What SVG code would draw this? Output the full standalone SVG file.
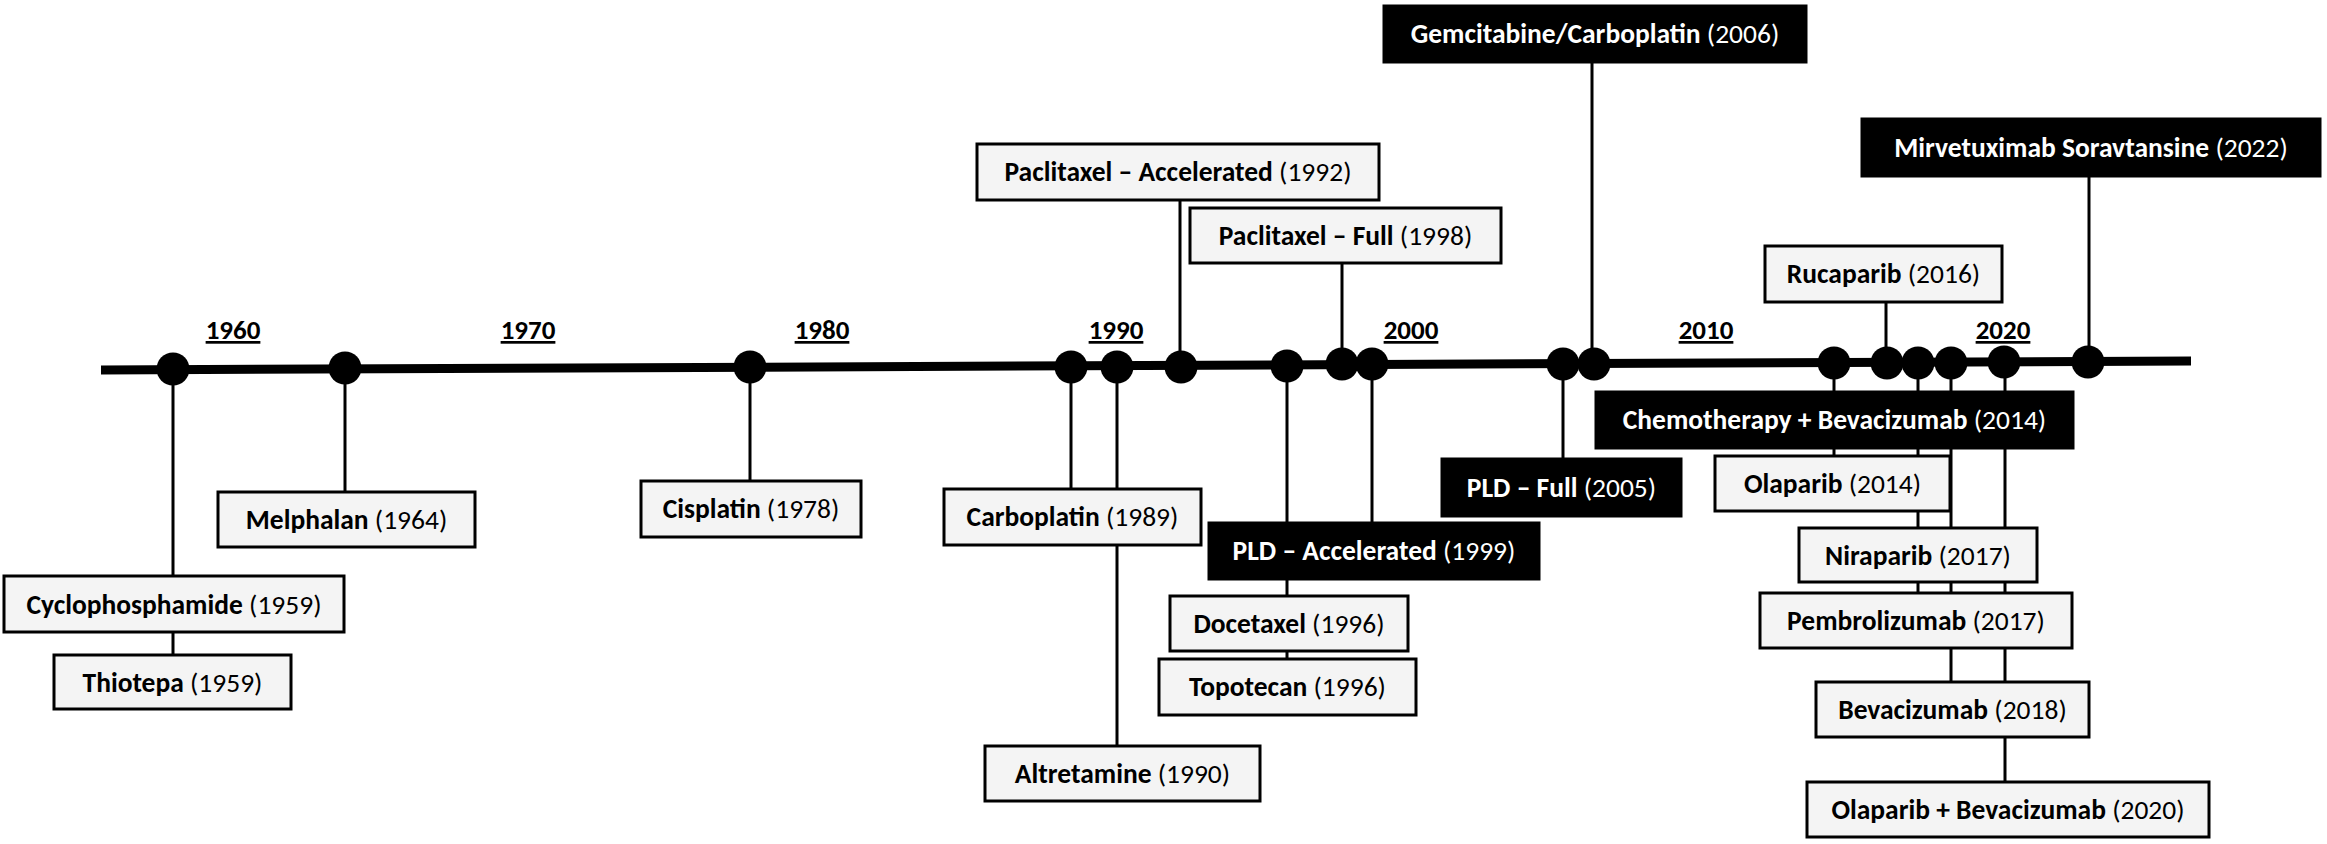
<svg xmlns="http://www.w3.org/2000/svg" width="2327" height="844" viewBox="0 0 2327 844">
<style>
  text { font-family: Carlito, Lato, "Liberation Sans", sans-serif; font-size: 27.5px; text-anchor: middle; }
  .b { font-weight: bold; }
  .lt rect { fill: #f4f4f4; stroke: #000; stroke-width: 3; }
  .lt text { fill: #000; }
  .dk rect { fill: #000; stroke: #000; stroke-width: 3; }
  .dk text { fill: #fff; }
  .conn line { stroke: #000; stroke-width: 3; }
  .dec { font-weight: bold; font-size: 27px; text-decoration: underline; fill: #000; }
  .dot { fill: #000; }
</style>
<rect width="2327" height="844" fill="#fff"/>

<g id="connectors" class="conn">
  <line x1="173" y1="369" x2="173" y2="655"/>
  <line x1="345" y1="368" x2="345" y2="492"/>
  <line x1="750" y1="367" x2="750" y2="481"/>
  <line x1="1071" y1="366" x2="1071" y2="489"/>
  <line x1="1117" y1="366" x2="1117" y2="746"/>
  <line x1="1180" y1="200" x2="1180" y2="366"/>
  <line x1="1287" y1="366" x2="1287" y2="659"/>
  <line x1="1342" y1="263" x2="1342" y2="365"/>
  <line x1="1372" y1="365" x2="1372" y2="523"/>
  <line x1="1563" y1="364" x2="1563" y2="459"/>
  <line x1="1592" y1="62" x2="1592" y2="364"/>
  <line x1="1886" y1="302" x2="1886" y2="363"/>
  <line x1="2089" y1="176" x2="2089" y2="362"/>
  <line x1="1834" y1="363" x2="1834" y2="456"/>
  <line x1="1918" y1="363" x2="1918" y2="593"/>
  <line x1="1951" y1="363" x2="1951" y2="682"/>
  <line x1="2005" y1="362" x2="2005" y2="782"/>
</g>

<g id="timeline">
  <line x1="101" y1="370" x2="2191" y2="361" stroke="#000" stroke-width="9"/>
  <circle class="dot" cx="173" cy="369" r="16.5"/>
  <circle class="dot" cx="345" cy="368" r="16.5"/>
  <circle class="dot" cx="750" cy="367" r="16.5"/>
  <circle class="dot" cx="1071" cy="367" r="16.5"/>
  <circle class="dot" cx="1117" cy="367" r="16.5"/>
  <circle class="dot" cx="1181" cy="367" r="16.5"/>
  <circle class="dot" cx="1287" cy="366" r="16.5"/>
  <circle class="dot" cx="1342" cy="364" r="16.5"/>
  <circle class="dot" cx="1372" cy="364" r="16.5"/>
  <circle class="dot" cx="1563" cy="364" r="16.5"/>
  <circle class="dot" cx="1594" cy="364" r="16.5"/>
  <circle class="dot" cx="1834" cy="363" r="16.5"/>
  <circle class="dot" cx="1887" cy="363" r="16.5"/>
  <circle class="dot" cx="1918" cy="363" r="16.5"/>
  <circle class="dot" cx="1951" cy="363" r="16.5"/>
  <circle class="dot" cx="2004" cy="362" r="16.5"/>
  <circle class="dot" cx="2088" cy="362" r="16.5"/>
  <text class="dec" x="233" y="339">1960</text>
  <text class="dec" x="528" y="339">1970</text>
  <text class="dec" x="822" y="339">1980</text>
  <text class="dec" x="1116" y="339">1990</text>
  <text class="dec" x="1411" y="339">2000</text>
  <text class="dec" x="1706" y="339">2010</text>
  <text class="dec" x="2003" y="339">2020</text>
</g>

<g id="n-cyclophosphamide" class="lt"><rect x="4" y="576" width="340" height="56"/><text x="174" y="614"><tspan class="b">Cyclophosphamide</tspan> (1959)</text></g>
<g id="n-thiotepa" class="lt"><rect x="54" y="655" width="237" height="54"/><text x="172.5" y="692"><tspan class="b">Thiotepa</tspan> (1959)</text></g>
<g id="n-melphalan" class="lt"><rect x="218" y="492" width="257" height="55"/><text x="346.5" y="529"><tspan class="b">Melphalan</tspan> (1964)</text></g>
<g id="n-cisplatin" class="lt"><rect x="641" y="481" width="220" height="56"/><text x="751" y="518"><tspan class="b">Cisplatin</tspan> (1978)</text></g>
<g id="n-carboplatin" class="lt"><rect x="944" y="489" width="257" height="56"/><text x="1072.5" y="526"><tspan class="b">Carboplatin</tspan> (1989)</text></g>
<g id="n-altretamine" class="lt"><rect x="985" y="746" width="275" height="55"/><text x="1122.5" y="783"><tspan class="b">Altretamine</tspan> (1990)</text></g>
<g id="n-paclitaxel-acc" class="lt"><rect x="977" y="144" width="402" height="56"/><text x="1178" y="181"><tspan class="b">Paclitaxel – Accelerated</tspan> (1992)</text></g>
<g id="n-paclitaxel-full" class="lt"><rect x="1190" y="208" width="311" height="55"/><text x="1345.5" y="245"><tspan class="b">Paclitaxel – Full</tspan> (1998)</text></g>
<g id="n-pld-acc" class="dk"><rect x="1209" y="523" width="330" height="56"/><text x="1374" y="560"><tspan class="b">PLD – Accelerated</tspan> (1999)</text></g>
<g id="n-docetaxel" class="lt"><rect x="1170" y="596" width="238" height="55"/><text x="1289" y="633"><tspan class="b">Docetaxel</tspan> (1996)</text></g>
<g id="n-topotecan" class="lt"><rect x="1159" y="659" width="257" height="56"/><text x="1287.5" y="696"><tspan class="b">Topotecan</tspan> (1996)</text></g>
<g id="n-pld-full" class="dk"><rect x="1442" y="459" width="239" height="57"/><text x="1561.5" y="497"><tspan class="b">PLD – Full</tspan> (2005)</text></g>
<g id="n-gemcitabine" class="dk"><rect x="1384" y="6" width="422" height="56"/><text x="1595" y="43"><tspan class="b">Gemcitabine/Carboplatin</tspan> (2006)</text></g>
<g id="n-mirvetuximab" class="dk"><rect x="1862" y="119" width="458" height="57"/><text x="2091" y="157"><tspan class="b">Mirvetuximab Soravtansine</tspan> (2022)</text></g>
<g id="n-rucaparib" class="lt"><rect x="1765" y="246" width="237" height="56"/><text x="1883.5" y="283"><tspan class="b">Rucaparib</tspan> (2016)</text></g>
<g id="n-chemo-bev" class="dk"><rect x="1596" y="392" width="477" height="56"/><text x="1834.5" y="429"><tspan class="b">Chemotherapy + Bevacizumab</tspan> (2014)</text></g>
<g id="n-olaparib" class="lt"><rect x="1715" y="456" width="235" height="55"/><text x="1832.5" y="493"><tspan class="b">Olaparib</tspan> (2014)</text></g>
<g id="n-niraparib" class="lt"><rect x="1799" y="528" width="238" height="54"/><text x="1918" y="565"><tspan class="b">Niraparib</tspan> (2017)</text></g>
<g id="n-pembrolizumab" class="lt"><rect x="1760" y="593" width="312" height="55"/><text x="1916" y="630"><tspan class="b">Pembrolizumab</tspan> (2017)</text></g>
<g id="n-bevacizumab" class="lt"><rect x="1816" y="682" width="273" height="55"/><text x="1952.5" y="719"><tspan class="b">Bevacizumab</tspan> (2018)</text></g>
<g id="n-olaparib-bev" class="lt"><rect x="1807" y="782" width="402" height="55"/><text x="2008" y="819"><tspan class="b">Olaparib + Bevacizumab</tspan> (2020)</text></g>
</svg>
